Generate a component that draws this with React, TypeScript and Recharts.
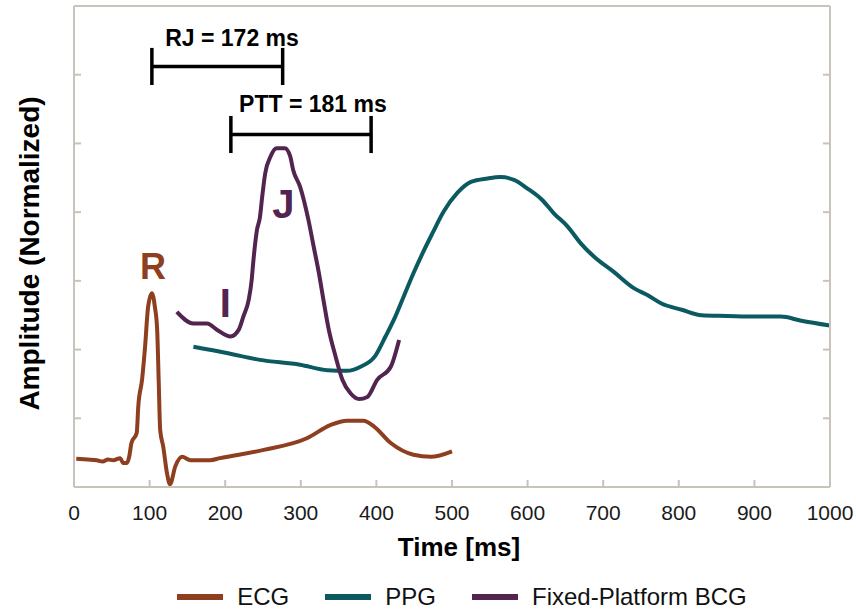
import { Line, LineChart, XAxis, YAxis, ReferenceLine, ReferenceDot, Legend, Label } from "recharts";

// time [ms] and normalized amplitude
const ecgTime = [3, 18, 30, 38, 45, 52, 61, 65, 70, 73, 76, 83, 85, 90, 94, 98, 103, 107, 110, 112, 114, 118, 123, 127, 134, 143, 154, 180, 193, 251, 308, 339, 361, 383, 397, 419, 449, 472, 500];
const ecgAmp = [0.41, 0.4, 0.39, 0.37, 0.4, 0.39, 0.42, 0.35, 0.35, 0.44, 0.64, 0.79, 1.17, 1.56, 2.04, 2.62, 2.82, 2.62, 2.29, 1.56, 0.83, 0.59, 0.2, 0.04, 0.3, 0.44, 0.39, 0.39, 0.42, 0.54, 0.71, 0.9, 0.965, 0.965, 0.88, 0.64, 0.47, 0.44, 0.52];

const ppgTime = [158, 202, 246, 299, 335, 361, 379, 398, 412, 425, 436, 449, 461, 474, 489, 507, 525, 547, 564, 582, 599, 619, 635, 653, 670, 688, 714, 741, 759, 777, 804, 830, 864, 900, 935, 962, 1000];
const ppgAmp = [2.04, 1.95, 1.85, 1.78, 1.7, 1.69, 1.75, 1.9, 2.19, 2.48, 2.77, 3.11, 3.4, 3.69, 4.01, 4.28, 4.44, 4.49, 4.51, 4.47, 4.35, 4.18, 3.98, 3.79, 3.55, 3.35, 3.13, 2.89, 2.79, 2.67, 2.58, 2.5, 2.49, 2.48, 2.48, 2.42, 2.35];

const bcgTime = [136, 158, 176, 189, 207, 218, 224, 231, 235, 237, 242, 246, 249, 253, 260, 268, 279, 286, 290, 299, 310, 317, 324, 330, 337, 346, 355, 366, 377, 388, 401, 419, 430];
const bcgAmp = [2.55, 2.38, 2.38, 2.29, 2.19, 2.29, 2.48, 2.72, 3.01, 3.26, 3.74, 3.93, 4.23, 4.57, 4.81, 4.93, 4.93, 4.81, 4.61, 4.37, 3.89, 3.5, 3.11, 2.72, 2.29, 1.9, 1.56, 1.36, 1.28, 1.31, 1.56, 1.75, 2.14];

const xTicks = [0, 100, 200, 300, 400, 500, 600, 700, 800, 900, 1000];
const yTicks = [0, 1, 2, 3, 4, 5, 6, 7];

// interval brackets: [start, end, level, tick half-height]
const rjBracket = [103, 276, 6.12, 0.27];
const pttBracket = [207.5, 393, 5.13, 0.27];

const ECG = "#8e3f1f";
const PPG = "#0b5a61";
const BCG = "#51254f";
const AXIS = "#c9c4ba";
const FONT = "'Liberation Sans', Arial, Helvetica, sans-serif";

const toRows = (t: number[], v: number[]) => t.map((x, i) => ({ t: x, v: v[i] }));
const ecgData = toRows(ecgTime, ecgAmp);
const ppgData = toRows(ppgTime, ppgAmp);
const bcgData = toRows(bcgTime, bcgAmp);

const legendItems = [
  { name: "ECG", color: ECG },
  { name: "PPG", color: PPG },
  { name: "Fixed-Platform BCG", color: BCG },
];

function ChartLegend() {
  return (
    <div style={{ height: 45, display: "flex", alignItems: "flex-end", justifyContent: "center", paddingLeft: 104, fontFamily: FONT, fontSize: 24, color: "#111" }}>
      {legendItems.map((item) => (
        <div key={item.name} style={{ display: "flex", alignItems: "center", marginRight: 36, lineHeight: "30px" }}>
          <span style={{ display: "inline-block", width: 46, height: 6, background: item.color, marginRight: 14 }} />
          <span>{item.name}</span>
        </div>
      ))}
    </div>
  );
}

function Bracket({ b }: { b: number[] }) {
  const [x0, x1, y, h] = b;
  const style = { stroke: "#000", strokeWidth: 3.5 };
  return [
    <ReferenceLine key="h" xAxisId="x" yAxisId="y" segment={[{ x: x0, y }, { x: x1, y }]} {...style} ifOverflow="visible" />,
    <ReferenceLine key="l" xAxisId="x" yAxisId="y" segment={[{ x: x0, y: y - h }, { x: x0, y: y + h }]} {...style} ifOverflow="visible" />,
    <ReferenceLine key="r" xAxisId="x" yAxisId="y" segment={[{ x: x1, y: y - h }, { x: x1, y: y + h }]} {...style} ifOverflow="visible" />,
  ];
}

function textDot(key: string, x: number, y: number, value: string, color: string, size: number) {
  return (
    <ReferenceDot key={key} xAxisId="x" yAxisId="y" x={x} y={y} r={0} stroke="none" fill="none" ifOverflow="visible"
      label={{ value, position: "center", fill: color, fontSize: size, fontWeight: 700, fontFamily: FONT }} />
  );
}

export default function App() {
  return (
    <div style={{ position: "absolute", left: 0, top: 0, background: "#fff" }}>
      <LineChart width={856} height={612} margin={{ top: 0, right: 0, bottom: 0, left: 0 }}>
        <XAxis xAxisId="x" type="number" dataKey="t" domain={[0, 1000]} ticks={xTicks} allowDataOverflow height={80}
          tickSize={-7} tickMargin={25} stroke={AXIS} strokeWidth={2}
          tick={{ fill: "#1a1a1a", fontSize: 21, fontFamily: FONT }} tickLine={{ stroke: AXIS, strokeWidth: 2 }}>
          <Label value="Time [ms]" position="insideBottom" offset={11} dx={7} fill="#000" fontSize={26} fontWeight={700} fontFamily={FONT} />
        </XAxis>
        <XAxis xAxisId="xt" orientation="top" type="number" domain={[0, 1000]} ticks={xTicks} allowDataOverflow height={6}
          tickSize={-7} stroke={AXIS} strokeWidth={2} tickFormatter={() => ""} tickLine={{ stroke: AXIS, strokeWidth: 2 }} />
        <YAxis yAxisId="y" type="number" domain={[0, 7]} ticks={yTicks} allowDataOverflow width={74}
          tickSize={-7} stroke={AXIS} strokeWidth={2} tickFormatter={() => ""} tickLine={{ stroke: AXIS, strokeWidth: 2 }}
          label={{
            content: (props: any) => {
              const vb = props.viewBox || { x: 0, y: 0, width: 74, height: 480 };
              const cx = vb.x + 29;
              const cy = vb.y + vb.height / 2 + 7;
              return (
                <text x={cx} y={cy} transform={`rotate(-90, ${cx}, ${cy})`} textAnchor="middle" dominantBaseline="central"
                  fill="#000" fontSize={28} fontWeight={700} fontFamily={FONT}>
                  Amplitude (Normalized)
                </text>
              );
            },
          }} />
        <YAxis yAxisId="yr" orientation="right" type="number" domain={[0, 7]} ticks={yTicks} allowDataOverflow width={26}
          tickSize={-7} stroke={AXIS} strokeWidth={2} tickFormatter={() => ""} tickLine={{ stroke: AXIS, strokeWidth: 2 }} />

        <Legend verticalAlign="bottom" content={() => <ChartLegend />} />

        <Line xAxisId="x" yAxisId="y" data={ecgData} dataKey="v" name="ECG" type="monotone" stroke={ECG} strokeWidth={4} dot={false} isAnimationActive={false} />
        <Line xAxisId="x" yAxisId="y" data={ppgData} dataKey="v" name="PPG" type="monotone" stroke={PPG} strokeWidth={4} dot={false} isAnimationActive={false} />
        <Line xAxisId="x" yAxisId="y" data={bcgData} dataKey="v" name="Fixed-Platform BCG" type="monotone" stroke={BCG} strokeWidth={4} dot={false} isAnimationActive={false} />

        {Bracket({ b: rjBracket })}
        {Bracket({ b: pttBracket })}
        {textDot("rj", 209, 6.53, "RJ = 172 ms", "#000", 23)}
        {textDot("ptt", 316, 5.57, "PTT = 181 ms", "#000", 23)}
        {textDot("R", 104.6, 3.22, "R", ECG, 36)}
        {textDot("I", 200, 2.68, "I", BCG, 40)}
        {textDot("J", 277, 4.12, "J", BCG, 40)}
      </LineChart>
    </div>
  );
}
